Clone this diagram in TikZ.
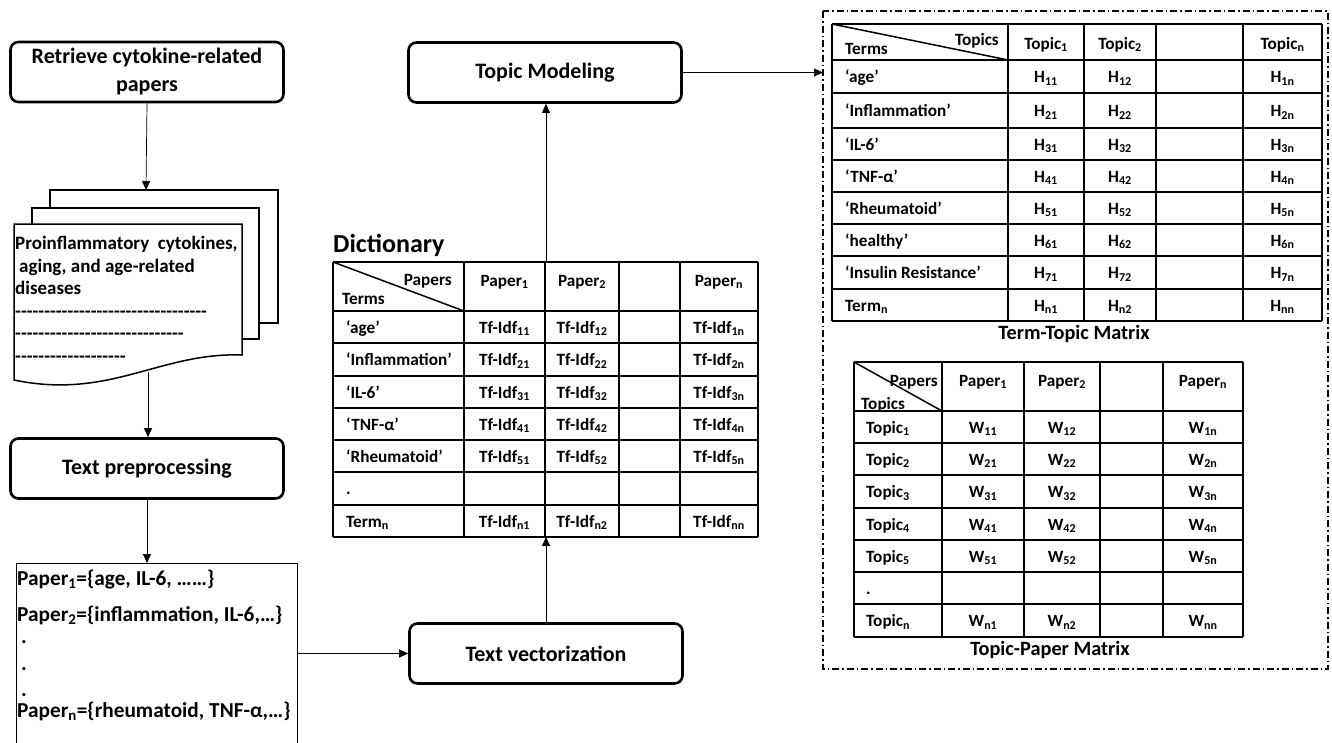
\documentclass[tikz,border=0pt]{standalone}
\usepackage{fontspec}
\setmainfont{Carlito}
\usetikzlibrary{arrows.meta}

\newcommand{\boxfont}{\fontsize{22}{28}\selectfont\bfseries}
\newcommand{\cellfont}{\fontsize{17.2}{19}\selectfont\bfseries}
\newcommand{\docfont}{\fontsize{19}{22.5}\selectfont\bfseries}
\newcommand{\listfont}{\fontsize{21.3}{26}\selectfont\bfseries}
\newcommand{\titlefont}{\fontsize{20.3}{24}\selectfont\bfseries}
\newcommand{\dashline}[1]{\foreach \k in {1,...,#1}{-\kern0pt}}

\tikzset{
  stepbox/.style={draw, line width=2.6pt, rounded corners=8pt, align=center,
    font=\boxfont, minimum width=273pt, minimum height=60pt, inner sep=0pt},
  sheet/.style={draw, fill=white, line width=1.5pt},
  grid/.style={line width=1.5pt},
  cell/.style={font=\cellfont, inner sep=0pt, anchor=base},
  conn/.style={-{Triangle[length=9pt,width=8pt]}, line width=0.7pt},
  frame/.style={line width=1.3pt, dash pattern=on 7pt off 3pt on 1.5pt off 3pt}
}

\begin{document}
\begin{tikzpicture}[x=1pt, y=-1pt]
  \useasboundingbox (0,0) rectangle (1332,742);

  % left column
  \node[stepbox] (retrieve) at (147,72) {Retrieve cytokine-related\\papers};

  \draw[sheet] (50,190) rectangle (278,323);
  \draw[sheet] (32,208) rectangle (259,339);
  \draw[sheet] (14,224) -- (242,224) -- (242,355)
     .. controls (160,352) and (110,400) .. (14,380) -- cycle;
  \coordinate (stacktop) at (146,190);
  \coordinate (stackbot) at (148,372);
  \node[anchor=north west, align=left, inner sep=0pt, font=\docfont] (doctext) at (15,236)
    {Proinflammatory\ \ cytokines,\\ \hspace*{4pt}aging, and age-related\\ diseases\\
     \dashline{33}\\ \dashline{29}\\ \dashline{19}};

  \node[stepbox] (prep) at (147,468.5) {Text preprocessing};

  \node[draw, line width=1.4pt, anchor=north west, minimum width=281pt,
        minimum height=200pt, inner sep=0pt] (plist) at (16,563) {};
  \node[anchor=north west, align=left, inner sep=0pt, font=\listfont] (ptext) at (17,570)
    {Paper\textsubscript{1}=\{age, IL-6, ……\}\\[10pt]
     Paper\textsubscript{2}=\{inflammation, IL-6,…\}\\[-4pt]
     \hspace*{4pt}.\\[1pt] \hspace*{4pt}.\\ \hspace*{4pt}.\\[-5pt]
     Paper\textsubscript{n}=\{rheumatoid, TNF-α,…\}};

  % middle column
  \node[stepbox] (tmod) at (545,72.5) {Topic Modeling};
  \node[stepbox] (tvec) at (546,653.5) {Text vectorization};

  \node[anchor=base west, inner sep=0pt, font=\fontsize{26}{30}\selectfont\bfseries]
    (dictlabel) at (333,252) {Dictionary};
  \coordinate (dictN) at (546,262);
  \coordinate (dictS) at (546,537);

  \foreach \x in {333,464,545,619,680,758} \draw[grid] (\x,262) -- (\x,537);
  \foreach \y in {262,311,343,376,408,440,472,505,537} \draw[grid] (333,\y) -- (758,\y);
  \draw[grid] (333,262) -- (464,311);
  \node[cell, anchor=base east] (dpapers) at (452,285) {Papers};
  \node[cell, anchor=base west] (dterms) at (342,304) {Terms};
  \foreach \c/\x in {1/504.5, 2/582, n/719}
    \node[cell] (dh-\c) at (\x,286) {Paper\textsubscript{\c}};
  \foreach \y/\w [count=\r] in {327/‘age’, 359.5/‘Inflammation’, 392/‘IL-6’, 424/‘TNF-α’,
      456/‘Rheumatoid’, 488.5/., 521/Term\textsubscript{n}}
    \node[cell, anchor=base west] (dr-\r) at (346,\y+6) {\w};
  \foreach \y/\i in {327/1, 359.5/2, 392/3, 424/4, 456/5, 521/n} {
    \node[cell] (d\i-1) at (504.5,\y+6) {Tf-Idf\textsubscript{\i1}};
    \node[cell] (d\i-2) at (582,\y+6) {Tf-Idf\textsubscript{\i2}};
    \node[cell] (d\i-n) at (719,\y+6) {Tf-Idf\textsubscript{\i n}};
  }

  % right frame
  \coordinate (frameNW) at (823,11);
  \draw[frame] (frameNW) rectangle (1328,669);

  % term-topic matrix
  \foreach \x in {832,1008,1084,1156,1243,1322} \draw[grid] (\x,24) -- (\x,321);
  \foreach \y in {24,60,93,128,160,192,224,256,289,321} \draw[grid] (832,\y) -- (1322,\y);
  \draw[grid] (832,24) -- (1008,60);
  \node[cell, anchor=base east] (ttopics) at (999,45) {Topics};
  \node[cell, anchor=base west] (tterms) at (845,54) {Terms};
  \foreach \c/\x in {1/1046, 2/1120, n/1282.5}
    \node[cell] (th-\c) at (\x,49) {Topic\textsubscript{\c}};
  \foreach \y/\w [count=\r] in {76.5/‘age’, 110.5/‘Inflammation’, 144/‘IL-6’, 176/‘TNF-α’,
      208/‘Rheumatoid’, 240/‘healthy’, 272.5/‘Insulin Resistance’, 305/Term\textsubscript{n}}
    \node[cell, anchor=base west] (tr-\r) at (845,\y+6) {\w};
  \foreach \y/\i in {76.5/1, 110.5/2, 144/3, 176/4, 208/5, 240/6, 272.5/7, 305/n} {
    \node[cell] (t\i-1) at (1046,\y+6) {H\textsubscript{\i1}};
    \node[cell] (t\i-2) at (1120,\y+6) {H\textsubscript{\i2}};
    \node[cell] (t\i-n) at (1282.5,\y+6) {H\textsubscript{\i n}};
  }
  \node[font=\titlefont, inner sep=0pt] (ttitle) at (1074,334) {Term-Topic Matrix};

  % topic-paper matrix
  \foreach \x in {854,942,1024,1100,1163,1243} \draw[grid] (\x,362) -- (\x,637);
  \foreach \y in {362,411,443,475,508,540,572,604,637} \draw[grid] (854,\y) -- (1243,\y);
  \draw[grid] (854,362) -- (942,411);
  \node[cell, anchor=base east] (wpapers) at (938,386) {Papers};
  \node[cell, anchor=base west] (wtopics) at (861,409) {Topics};
  \foreach \c/\x in {1/983, 2/1062, n/1203}
    \node[cell] (wh-\c) at (\x,386) {Paper\textsubscript{\c}};
  \foreach \y/\w [count=\r] in {427/Topic\textsubscript{1}, 459/Topic\textsubscript{2},
      491.5/Topic\textsubscript{3}, 524/Topic\textsubscript{4}, 556/Topic\textsubscript{5},
      588/., 620.5/Topic\textsubscript{n}}
    \node[cell, anchor=base west] (wr-\r) at (866,\y+6) {\w};
  \foreach \y/\i in {427/1, 459/2, 491.5/3, 524/4, 556/5, 620.5/n} {
    \node[cell] (w\i-1) at (983,\y+6) {W\textsubscript{\i1}};
    \node[cell] (w\i-2) at (1062,\y+6) {W\textsubscript{\i2}};
    \node[cell] (w\i-n) at (1203,\y+6) {W\textsubscript{\i n}};
  }
  \node[font=\titlefont, inner sep=0pt] (wtitle) at (1050,650) {Topic-Paper Matrix};

  % connectors
  \draw[conn] (retrieve.south) -- (stacktop);
  \draw[conn] (stackbot) -- (stackbot |- prep.north);
  \draw[conn] (prep.south) -- (prep.south |- plist.north);
  \draw[conn] (plist.east |- tvec.west) -- (tvec.west);
  \draw[conn] (tvec.north) -- (dictS);
  \draw[conn] (dictN) -- (dictN |- tmod.south);
  \draw[conn] (tmod.east) -- (tmod.east -| frameNW);
\end{tikzpicture}
\end{document}
